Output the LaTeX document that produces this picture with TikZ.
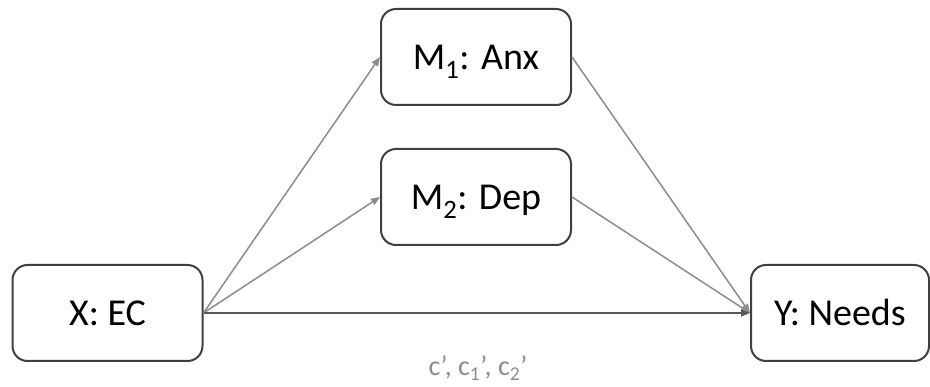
\documentclass[tikz,border=0pt]{standalone}
\usepackage{fontspec}
\setmainfont{Carlito}
\usetikzlibrary{arrows.meta}
\definecolor{boxline}{HTML}{404040}
\definecolor{arrowgray}{HTML}{8C8C8C}
\definecolor{arrowdark}{HTML}{5A5A5A}
\definecolor{labelgray}{HTML}{8C8C8C}
\begin{document}
\begin{tikzpicture}[x=1pt,y=-1pt,
  box/.style={draw=boxline, line width=2pt, rounded corners=15pt,
    minimum width=190pt, minimum height=96pt, inner sep=0pt,
    text height=26pt, text depth=0pt,
    font=\fontsize{38}{44}\selectfont, fill=white},
  link/.style={draw=arrowgray, line width=1.5pt, -{Triangle[length=9pt,width=7pt]}}]
\useasboundingbox (0,0) rectangle (930,387);
\node[box] (x) at (107.5,313) {X: EC};
\node[box] (m1) at (476,57) {M\textsubscript{1}: Anx};
\node[box] (m2) at (476,197) {M\textsubscript{2}: Dep};
\node[box, minimum width=178pt] (y) at (840,313) {Y: Needs};
\draw[link] (x.east) -- (m1.west);
\draw[link] (x.east) -- (m2.west);
\draw[link] (m1.east) -- (y.west);
\draw[link] (m2.east) -- (y.west);
\draw[link, draw=arrowdark] (x.east) -- (y.west);
\node[text=labelgray, font=\fontsize{28}{32}\selectfont, anchor=base, inner sep=0pt] (lab) at (478,376) {c’, c\textsubscript{1}’, c\textsubscript{2}’};
\end{tikzpicture}
\end{document}
